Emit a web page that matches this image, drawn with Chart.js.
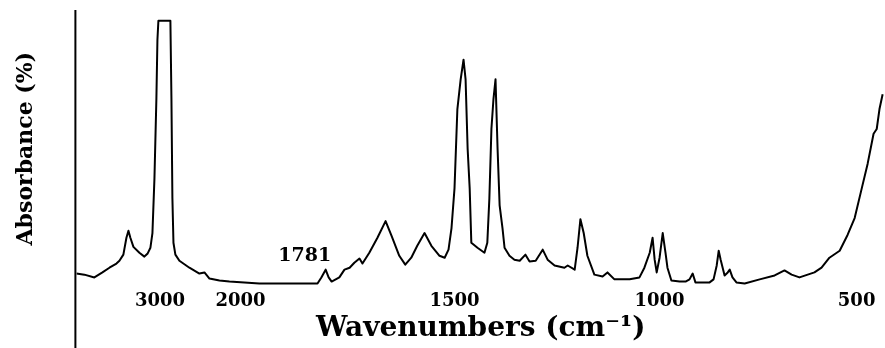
<!DOCTYPE html>
<html>
<head>
<meta charset="utf-8">
<title>IR spectrum</title>
<script src="https://cdn.jsdelivr.net/npm/chart.js@4.4.0/dist/chart.umd.min.js"></script>
<style>
  html, body { margin: 0; padding: 0; background: #fff; }
  #wrap { width: 885px; height: 348px; }
</style>
</head>
<body>
<div id="wrap"><canvas id="myChart" width="885" height="348"></canvas></div>
<script>
// spectrum: wavenumber (cm-1) and absorbance (%)
let wavenumbers = [
  4037, 3938, 3814, 3714, 3627, 3540, 3503, 3454, 3416, 3391, 3367, 3329, 3255, 3193, 3155, 3118,
  3093, 3068, 3044, 3031, 3019, 2944, 2870, 2857, 2845, 2832, 2808, 2758, 2634, 2510, 2447, 2385,
  2261, 2137, 1956, 1862, 1820, 1811, 1801, 1794, 1787, 1769, 1757, 1745, 1734, 1722, 1715, 1699,
  1680, 1661, 1647, 1629, 1615, 1601, 1587, 1570, 1554, 1535, 1523, 1514, 1507, 1500, 1493, 1485,
  1478, 1473, 1468, 1463, 1459, 1444, 1427, 1420, 1415, 1410, 1405, 1400, 1395, 1390, 1383, 1378,
  1366, 1354, 1341, 1327, 1317, 1302, 1285, 1273, 1256, 1232, 1224, 1207, 1200, 1193, 1185, 1176,
  1159, 1139, 1127, 1110, 1073, 1049, 1037, 1024, 1017, 1012, 1007, 1000, 992, 985, 980, 970,
  949, 934, 924, 916, 909, 898, 873, 863, 855, 850, 845, 835, 827, 822, 815, 805,
  784, 746, 708, 683, 665, 645, 607, 589, 569, 543, 523, 505, 487, 472, 457, 449,
  442, 434
];
let absorbance = [
  5.0, 4.6, 3.6, 5.4, 7.1, 8.6, 9.6, 11.8, 17.9, 20.4, 17.9, 14.6, 12.5, 11.1, 12.1, 14.3,
  19.6, 39.3, 67.9, 89.3, 96.1, 96.1, 96.1, 67.9, 32.1, 16.1, 11.8, 9.6, 7.1, 5.0, 5.4, 3.2,
  2.5, 2.1, 1.4, 1.4, 1.4, 3.6, 6.4, 3.6, 2.1, 3.6, 6.4, 7.1, 8.9, 10.4, 8.6, 12.5,
  17.9, 23.9, 18.6, 11.4, 8.2, 10.7, 15.0, 19.6, 15.0, 11.4, 10.7, 13.6, 21.4, 35.7, 64.3, 75.0,
  82.1, 75.0, 50.0, 35.7, 16.1, 14.3, 12.5, 16.1, 32.1, 57.1, 67.9, 75.0, 50.0, 29.6, 21.4, 14.3,
  11.4, 10.0, 9.6, 11.8, 9.3, 9.6, 13.6, 10.0, 7.9, 7.1, 7.9, 6.4, 14.3, 24.6, 19.6, 11.4,
  4.6, 3.9, 5.4, 2.9, 2.9, 3.6, 7.1, 12.5, 17.9, 10.0, 5.4, 10.7, 19.6, 12.5, 7.1, 2.5,
  2.1, 2.1, 2.9, 5.0, 1.8, 1.8, 1.8, 2.9, 7.9, 13.2, 10.0, 4.3, 5.4, 6.4, 3.6, 1.8,
  1.4, 2.9, 4.3, 6.1, 4.6, 3.6, 5.4, 7.1, 10.7, 13.2, 18.9, 25.0, 35.7, 44.6, 55.4, 57.1,
  64.3, 69.6
];

let tickValues = [3000, 2000, 1500, 1000, 500];
let tickLabels = ['3000', '2000', '1500', '1000', '500'];

let noteLabels = ['1781'];
let noteWavenumbers = [1850];
let noteAbsorbance = [11.4];

// the original axis is split: 4000-2000 squeezed, 2000-400 stretched
let axisBreaks = [[4000, 3], [2000, 164], [1500, 378], [1000, 583], [500, 780]];

function xPos(wn) {
  let i = 0;
  while (i < axisBreaks.length - 2 && wn < axisBreaks[i + 1][0]) i++;
  let [w0, p0] = axisBreaks[i];
  let [w1, p1] = axisBreaks[i + 1];
  return p0 + (wn - w0) * (p1 - p0) / (w1 - w0);
}

let points = wavenumbers.map((w, i) => ({ x: xPos(w), y: absorbance[i] }));

// y axis line runs from the top of the plot down past the x labels
let yAxisLine = {
  id: 'yAxisLine',
  afterDraw(chart) {
    let c = chart.ctx;
    let a = chart.chartArea;
    c.save();
    c.strokeStyle = '#000';
    c.lineWidth = 2;
    c.beginPath();
    c.moveTo(a.left - 1, a.top);
    c.lineTo(a.left - 1, chart.height);
    c.stroke();
    c.restore();
  }
};

let peakNotes = {
  id: 'peakNotes',
  afterDatasetsDraw(chart) {
    let c = chart.ctx;
    c.save();
    c.fillStyle = '#000';
    c.font = 'bold 19px "DejaVu Serif"';
    c.textAlign = 'center';
    c.textBaseline = 'middle';
    noteLabels.forEach((t, i) => {
      c.fillText(t, chart.scales.x.getPixelForValue(xPos(noteWavenumbers[i])),
        chart.scales.y.getPixelForValue(noteAbsorbance[i]));
    });
    c.restore();
  }
};

let ctx = document.getElementById('myChart').getContext('2d');

let myChart = new Chart(ctx, {
  type: 'line',
  data: {
    datasets: [{
      data: points,
      borderColor: '#000',
      borderWidth: 2,
      borderJoinStyle: 'round',
      fill: false,
      tension: 0,
      pointRadius: 0
    }]
  },
  options: {
    responsive: false,
    animation: false,
    layout: { padding: { left: 0, right: 0, top: 10, bottom: 0 } },
    plugins: { legend: { display: false }, tooltip: { enabled: false } },
    scales: {
      x: {
        type: 'linear',
        min: 0,
        max: xPos(428),
        grid: { display: false, drawTicks: false },
        border: { display: false },
        afterBuildTicks: (axis) => { axis.ticks = tickValues.map(v => ({ value: xPos(v) })); },
        ticks: {
          autoSkip: false,
          maxRotation: 0,
          padding: 3,
          color: '#000',
          font: { family: '"DejaVu Serif"', size: 18, weight: 'bold' },
          callback: (value) => {
            let i = tickValues.findIndex(v => Math.abs(xPos(v) - value) < 0.01);
            return i >= 0 ? tickLabels[i] : '';
          }
        },
        title: {
          display: true,
          text: 'Wavenumbers (cm⁻¹)',
          color: '#000',
          font: { family: '"DejaVu Serif"', size: 28, weight: 'bold', lineHeight: 1.0 },
          padding: { top: 0, bottom: 5 }
        }
      },
      y: {
        min: 0,
        max: 100,
        grid: { display: false, drawTicks: false },
        border: { display: false },
        ticks: { display: false },
        title: {
          display: true,
          text: 'Absorbance (%)',
          color: '#000',
          font: { family: '"DejaVu Serif"', size: 22, weight: 'bold', lineHeight: 1.2 },
          padding: { top: 13, bottom: 37 }
        }
      }
    }
  },
  plugins: [yAxisLine, peakNotes]
});
</script>
</body>
</html>
